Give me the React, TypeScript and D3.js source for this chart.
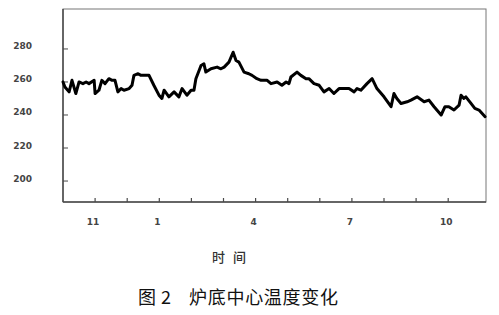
import React, { useEffect, useRef } from "react";
import * as d3 from "d3";

// time position (month units from axis origin) and furnace-bottom temperature
const times = [
  0, 0.06, 0.19, 0.28, 0.4, 0.5, 0.62, 0.72, 0.81, 0.97, 1.0, 1.12, 1.21, 1.31, 1.43, 1.53, 1.62, 1.71,
  1.81, 1.9, 2.06, 2.15, 2.21, 2.34, 2.43, 2.55, 2.68, 2.83, 2.99, 3.08, 3.15, 3.3, 3.46, 3.61, 3.71,
  3.86, 3.99, 4.08, 4.14, 4.3, 4.39, 4.45, 4.61, 4.8, 4.92, 5.02, 5.17, 5.3, 5.39, 5.48, 5.64, 5.79,
  5.89, 6.04, 6.17, 6.36, 6.48, 6.67, 6.82, 6.95, 7.04, 7.1, 7.29, 7.41, 7.57, 7.66, 7.82, 7.98, 8.13,
  8.29, 8.44, 8.6, 8.75, 8.91, 9.07, 9.16, 9.28, 9.47, 9.63, 9.78, 10.0, 10.22, 10.31, 10.4, 10.53,
  10.72, 10.84, 11.03, 11.25, 11.4, 11.56, 11.78, 11.9, 12.02, 12.18, 12.34, 12.4, 12.49, 12.55, 12.71,
  12.83, 12.96, 13.15,
];
const temps = [
  260, 257, 254, 261, 253, 260, 259, 260, 259, 261, 253, 255, 261, 259, 262, 261, 261, 254,
  256, 255, 256, 258, 264, 265, 264, 264, 264, 258, 252, 250, 255, 251, 254, 251, 256,
  252, 255, 255, 262, 270, 271, 266, 268, 269, 268, 269, 272, 278, 273, 272, 266, 265,
  264, 262, 261, 261, 259, 260, 258, 260, 259, 263, 266, 264, 262, 262, 259, 258, 254,
  256, 253, 256, 256, 256, 254, 256, 255, 259, 262, 256, 251, 245, 253, 250, 247,
  248, 249, 251, 248, 249, 245, 240, 245, 245, 243, 246, 252, 250, 251, 247,
  244, 243, 239,
];
const xTickValues = [1, 2, 3, 4, 5, 6, 7, 8, 9, 10, 11, 12];
const xTickLabels = ["11", "", "1", "", "", "4", "", "", "7", "", "", "10"];
const yTickValues = [200, 220, 240, 260, 280];

export default function App() {
  const ref = useRef<SVGSVGElement>(null);

  useEffect(() => {
    const svg = d3.select(ref.current);
    svg.selectAll("*").remove();

    const L = 63, R = 486, T = 9, B = 202;
    const x = d3.scaleLinear().domain([0, 13.15]).range([L, L + 13.15 * 32.1]);
    const y = d3.scaleLinear().domain([187.3, 304.2]).range([B, T]);

    const axisColor = "#4a4a4a";

    // frame
    svg.append("rect")
      .attr("x", L).attr("y", T).attr("width", R - L).attr("height", B - T)
      .attr("fill", "none").attr("stroke", "#777").attr("stroke-width", 1);
    svg.append("line").attr("x1", L).attr("x2", L).attr("y1", T).attr("y2", B)
      .attr("stroke", axisColor).attr("stroke-width", 1.5);
    svg.append("line").attr("x1", L).attr("x2", R).attr("y1", B).attr("y2", B)
      .attr("stroke", axisColor).attr("stroke-width", 1.5);

    // y ticks (inward)
    const yg = svg.append("g");
    yTickValues.forEach((v) => {
      yg.append("line").attr("x1", L).attr("x2", L + 5).attr("y1", y(v)).attr("y2", y(v))
        .attr("stroke", axisColor).attr("stroke-width", 1);
      yg.append("text").attr("x", 32).attr("y", y(v) + 0.5)
        .attr("text-anchor", "end")
        .attr("font-family", "DejaVu Sans, Verdana, sans-serif")
        .attr("font-size", 9).attr("font-weight", "bold").attr("fill", "#444")
        .text(String(v));
    });

    // x ticks (inward)
    const xg = svg.append("g");
    xTickValues.forEach((t, i) => {
      xg.append("line").attr("x1", x(t)).attr("x2", x(t)).attr("y1", B).attr("y2", B - 4)
        .attr("stroke", axisColor).attr("stroke-width", 1.2);
      if (xTickLabels[i]) {
        xg.append("text").attr("x", x(t) - 2).attr("y", 225)
          .attr("text-anchor", "middle")
          .attr("font-family", "DejaVu Sans, Verdana, sans-serif")
          .attr("font-size", 9).attr("font-weight", "bold").attr("fill", "#444")
          .text(xTickLabels[i]);
      }
    });

    // line
    const data = times.map((t, i) => ({ t, v: temps[i] }));
    const line = d3.line<{ t: number; v: number }>()
      .x((d) => x(d.t)).y((d) => y(d.v));
    svg.append("path").datum(data).attr("d", line)
      .attr("fill", "none").attr("stroke", "#000").attr("stroke-width", 3)
      .attr("stroke-linejoin", "round").attr("stroke-linecap", "round");

    // axis title
    const at = svg.append("g").attr("font-family", "Noto Sans CJK SC, sans-serif")
      .attr("font-size", 13).attr("font-weight", 500).attr("fill", "#333");
    at.append("text").attr("x", 212).attr("y", 262).text("时");
    at.append("text").attr("x", 233).attr("y", 262).text("间");

    // caption
    const cap = svg.append("g").attr("font-family", "Noto Sans CJK SC, sans-serif")
      .attr("font-size", 18).attr("fill", "#111");
    cap.append("text").attr("x", 138).attr("y", 304).text("图");
    cap.append("text").attr("x", 161).attr("y", 304).text("2");
    cap.append("text").attr("x", 189).attr("y", 304)
      .attr("textLength", 149).attr("lengthAdjust", "spacing")
      .text("炉底中心温度变化");
  }, []);

  return (
    <div style={{ position: "absolute", left: 0, top: 0 }}>
      <svg ref={ref} width={499} height={315} style={{ display: "block", background: "#fff" }} />
    </div>
  );
}
